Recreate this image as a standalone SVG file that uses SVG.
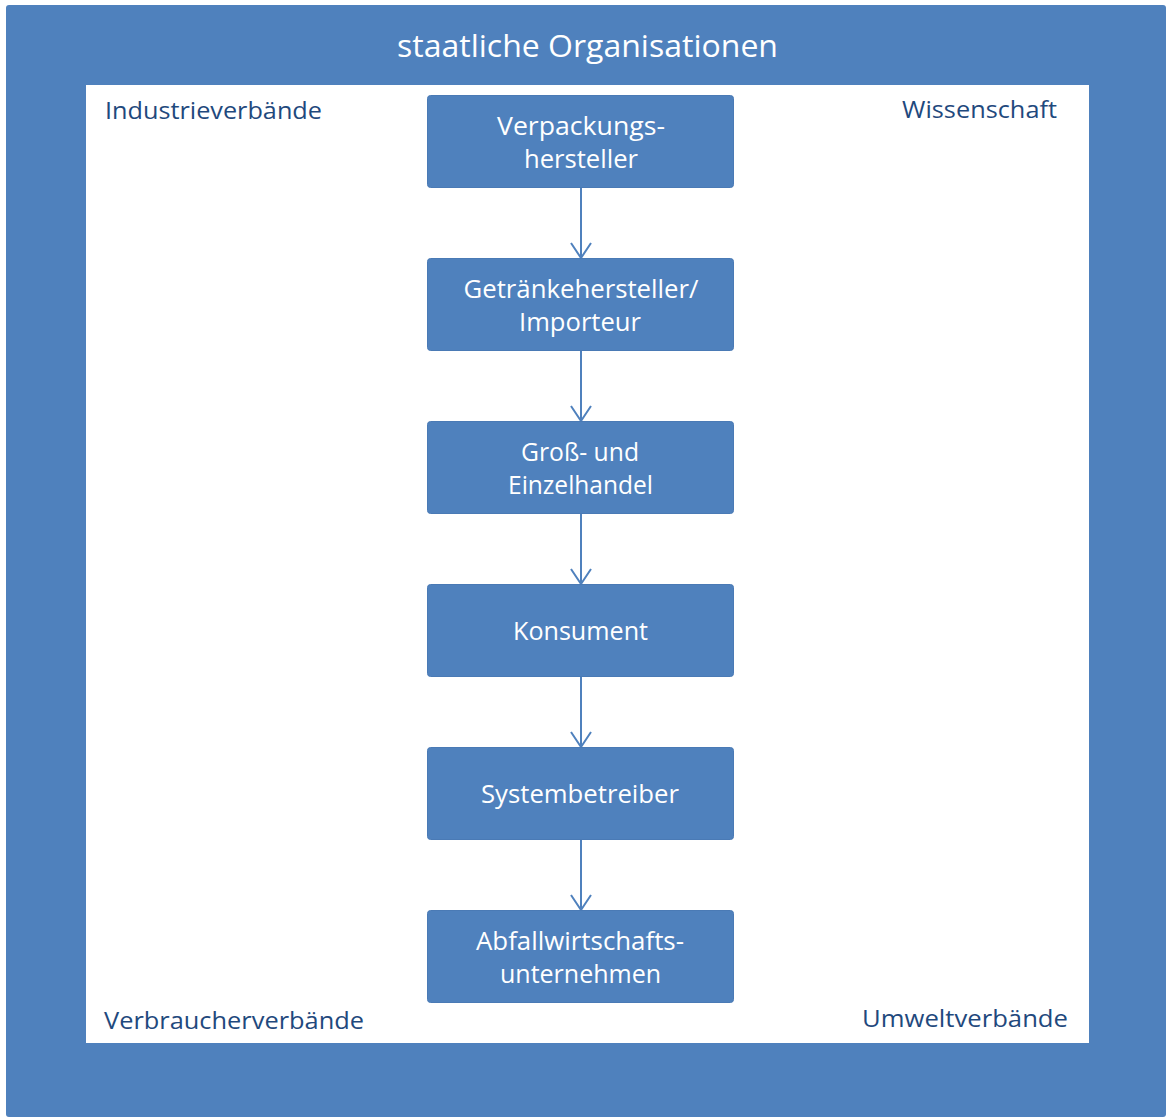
<svg xmlns="http://www.w3.org/2000/svg" width="1166" height="1117" viewBox="0 0 1166 1117">
<defs>
<style>
.frame{fill:#4F81BD}
.inner{fill:#FFFFFF}
.box{fill:#4F81BD;stroke:#4A7AB5;stroke-width:1}
.bt{fill:#FFFFFF;font-family:"Open Sans","Noto Sans","Liberation Sans",sans-serif;font-size:25px;text-anchor:middle}
.title{fill:#FFFFFF;font-family:"Open Sans","Noto Sans","Liberation Sans",sans-serif;font-size:31px;text-anchor:middle}
.corner{fill:#1F497D;font-family:"Open Sans","Noto Sans","Liberation Sans",sans-serif;font-size:24px}
.conn{stroke:#4F81BD;stroke-width:2;fill:none}
</style>
<marker id="arr" viewBox="0 0 18 24" refX="16" refY="12" markerWidth="18" markerHeight="24" markerUnits="userSpaceOnUse" orient="auto">
<path d="M1,2 L16,12 L1,22" fill="none" stroke="#4F81BD" stroke-width="2"/>
</marker>
</defs>
<g id="frame">
<rect class="frame" x="6" y="5" width="1160" height="1112" rx="3"/>
<rect class="inner" x="86" y="85" width="1003" height="958"/>
<text class="title" x="587.5" y="57" textLength="381" lengthAdjust="spacingAndGlyphs">staatliche Organisationen</text>
</g>
<g id="corner-industrie"><text class="corner" x="105" y="119" textLength="217" lengthAdjust="spacingAndGlyphs">Industrieverbände</text></g>
<g id="corner-wissenschaft"><text class="corner" x="902" y="118" textLength="155" lengthAdjust="spacingAndGlyphs">Wissenschaft</text></g>
<g id="corner-verbraucher"><text class="corner" x="104" y="1029" textLength="260" lengthAdjust="spacingAndGlyphs">Verbraucherverbände</text></g>
<g id="corner-umwelt"><text class="corner" x="862" y="1027" textLength="206" lengthAdjust="spacingAndGlyphs">Umweltverbände</text></g>
<g id="connectors">
<line class="conn" x1="581" y1="188" x2="581" y2="258" marker-end="url(#arr)"/>
<line class="conn" x1="581" y1="351" x2="581" y2="421" marker-end="url(#arr)"/>
<line class="conn" x1="581" y1="514" x2="581" y2="584" marker-end="url(#arr)"/>
<line class="conn" x1="581" y1="677" x2="581" y2="747" marker-end="url(#arr)"/>
<line class="conn" x1="581" y1="840" x2="581" y2="910" marker-end="url(#arr)"/>
</g>
<g id="n1">
<rect class="box" x="427.5" y="95.5" width="306" height="92" rx="3"/>
<text class="bt" x="581" y="135" textLength="168" lengthAdjust="spacingAndGlyphs">Verpackungs-</text>
<text class="bt" x="581" y="168" textLength="114" lengthAdjust="spacingAndGlyphs">hersteller</text>
</g>
<g id="n2">
<rect class="box" x="427.5" y="258.5" width="306" height="92" rx="3"/>
<text class="bt" x="581" y="298" textLength="235" lengthAdjust="spacingAndGlyphs">Getränkehersteller/</text>
<text class="bt" x="580" y="331" textLength="122" lengthAdjust="spacingAndGlyphs">Importeur</text>
</g>
<g id="n3">
<rect class="box" x="427.5" y="421.5" width="306" height="92" rx="3"/>
<text class="bt" x="580" y="461" textLength="118" lengthAdjust="spacingAndGlyphs">Groß- und</text>
<text class="bt" x="580.5" y="494" textLength="145" lengthAdjust="spacingAndGlyphs">Einzelhandel</text>
</g>
<g id="n4">
<rect class="box" x="427.5" y="584.5" width="306" height="92" rx="3"/>
<text class="bt" x="580.5" y="640" textLength="135" lengthAdjust="spacingAndGlyphs">Konsument</text>
</g>
<g id="n5">
<rect class="box" x="427.5" y="747.5" width="306" height="92" rx="3"/>
<text class="bt" x="580" y="803" textLength="198" lengthAdjust="spacingAndGlyphs">Systembetreiber</text>
</g>
<g id="n6">
<rect class="box" x="427.5" y="910.5" width="306" height="92" rx="3"/>
<text class="bt" x="580" y="950" textLength="208" lengthAdjust="spacingAndGlyphs">Abfallwirtschafts-</text>
<text class="bt" x="580.5" y="983" textLength="161" lengthAdjust="spacingAndGlyphs">unternehmen</text>
</g>
</svg>
